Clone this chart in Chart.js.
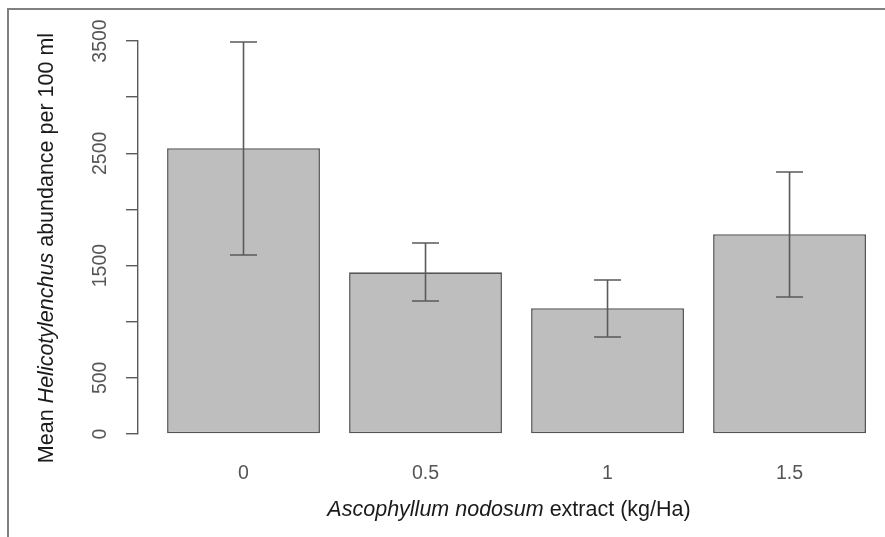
<!DOCTYPE html>
<html>
<head>
<meta charset="utf-8">
<script src="https://cdn.jsdelivr.net/npm/chart.js@4"></script>
<style>
  html, body { margin: 0; padding: 0; background: #fff; }
  #wrap { position: relative; width: 885px; height: 537px; overflow: hidden; }
  #frame { position: absolute; left: 7px; top: 8px; width: 900px; height: 600px;
           border-top: 2px solid #808080; border-left: 2px solid #808080; pointer-events: none; }
  canvas { position: absolute; left: 0; top: 0; }
</style>
</head>
<body>
<div id="wrap">
  <canvas id="c" width="885" height="537"></canvas>
  <div id="frame"></div>
</div>
<script>
// ---- data ----
const categories = ['0', '0.5', '1', '1.5'];
const meanAbundance = [2545, 1440, 1120, 1780];
const errLower = [1594, 1185, 864, 1220];
const errUpper = [3491, 1701, 1372, 2333];
const yTickValues = [0, 500, 1000, 1500, 2000, 2500, 3000, 3500];
const yTickLabelled = [0, 500, 1500, 2500, 3500];

const xTitleParts = [['Ascophyllum nodosum', true], [' extract (kg/Ha)', false]];
const yTitleParts = [['Mean ', false], ['Helicotylenchus', true], [' abundance per 100 ml', false]];

const FONT = '"Liberation Sans", Arial, Helvetica, sans-serif';

function drawParts(ctx, parts, size, color) {
  let total = 0;
  const widths = parts.map(([t, it]) => {
    ctx.font = (it ? 'italic ' : '') + size + 'px ' + FONT;
    const w = ctx.measureText(t).width; total += w; return w;
  });
  let x = -total / 2;
  ctx.fillStyle = color;
  ctx.textBaseline = 'middle';
  ctx.textAlign = 'left';
  parts.forEach(([t, it], i) => {
    ctx.font = (it ? 'italic ' : '') + size + 'px ' + FONT;
    ctx.fillText(t, x, 0);
    x += widths[i];
  });
}

const extras = {
  id: 'extras',
  afterDatasetsDraw(chart) {
    const ctx = chart.ctx;
    const xs = chart.scales.x, ys = chart.scales.y;
    ctx.save();
    ctx.strokeStyle = '#5a5a5a';
    ctx.lineWidth = 1.6;
    const cap = 13.5;
    categories.forEach((c, i) => {
      const px = xs.getPixelForValue(i);
      const yl = ys.getPixelForValue(errLower[i]);
      const yh = ys.getPixelForValue(errUpper[i]);
      ctx.beginPath();
      ctx.moveTo(px, yl); ctx.lineTo(px, yh);
      ctx.moveTo(px - cap, yl); ctx.lineTo(px + cap, yl);
      ctx.moveTo(px - cap, yh); ctx.lineTo(px + cap, yh);
      ctx.stroke();
    });
    ctx.restore();
  },
  afterDraw(chart) {
    const ctx = chart.ctx;
    ctx.save();
    ctx.translate(509, 510);
    drawParts(ctx, xTitleParts, 21.5, '#1a1a1a');
    ctx.restore();
    ctx.save();
    ctx.translate(47, 248);
    ctx.rotate(-Math.PI / 2);
    drawParts(ctx, yTitleParts, 21.5, '#1a1a1a');
    ctx.restore();
  }
};

new Chart(document.getElementById('c'), {
  type: 'bar',
  data: {
    datasets: [{
      data: categories.map((c, i) => ({ x: i, y: meanAbundance[i] })),
      backgroundColor: '#bebebe',
      borderColor: '#555555',
      borderWidth: 1.6,
      borderSkipped: false,
      barPercentage: 0.84,
      categoryPercentage: 1.0,
      clip: false
    }]
  },
  options: {
    responsive: false,
    animation: false,
    events: [],
    layout: { padding: { left: 58, top: 41, right: 5, bottom: 43 } },
    plugins: { legend: { display: false }, tooltip: { enabled: false } },
    scales: {
      x: {
        type: 'linear',
        offset: false,
        min: -0.5797,
        max: 3.497,
        grid: { display: false, drawTicks: false, offset: false },
        border: { display: false },
        afterBuildTicks: (s) => { s.ticks = categories.map((c, i) => ({ value: i })); },
        afterFit: (s) => { s.height = 60; },
        ticks: {
          padding: 28,
          autoSkip: false,
          color: '#555555',
          font: { family: FONT, size: 19.5 },
          callback: (v) => categories[v]
        }
      },
      y: {
        min: 0,
        max: 3500,
        afterBuildTicks: (s) => { s.ticks = yTickValues.map(v => ({ value: v })); },
        afterFit: (s) => { s.width = 80; },
        grid: { display: true, drawOnChartArea: false, drawTicks: true, tickLength: 12,
                color: '#5a5a5a', lineWidth: 1.4 },
        border: { display: true, color: '#5a5a5a', width: 1.4 },
        ticks: {
          autoSkip: false,
          minRotation: 90,
          maxRotation: 90,
          crossAlign: 'center',
          padding: 4,
          color: '#555555',
          font: { family: FONT, size: 19.5 },
          callback: (v) => yTickLabelled.includes(v) ? String(v) : ''
        }
      }
    }
  },
  plugins: [extras]
});
</script>
</body>
</html>
